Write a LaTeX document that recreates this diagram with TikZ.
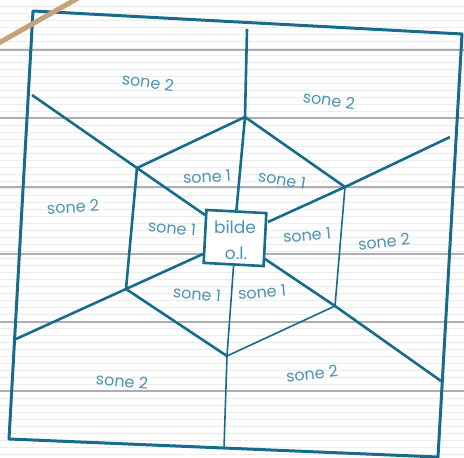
\documentclass[tikz,border=0pt]{standalone}
\usepackage{fontspec}
\setmainfont{Poppins}
\definecolor{ink}{HTML}{176C8C}
\definecolor{txt}{HTML}{4A94B4}
\definecolor{rule}{HTML}{ADADB2}
\definecolor{faint}{HTML}{ECECEE}
\definecolor{twine}{HTML}{C4A27A}
\begin{document}
\begin{tikzpicture}[x=1pt,y=-1pt,
  edge/.style={draw=ink,line width=2.6pt,line join=round},
  thin/.style={draw=ink,line width=1.6pt},
  lab/.style={text=txt,font=\fontsize{16}{18}\selectfont,inner sep=0pt},
  boxtxt/.style={text=txt,font=\fontsize{17}{19}\selectfont,align=center,inner sep=0pt}]
\useasboundingbox (0,0) rectangle (464,458);
\fill[white] (0,0) rectangle (464,458);
% paper lines
\foreach \y in {6,13,...,458} \draw[faint,line width=0.7pt] (0,\y) -- (464,\y);
\foreach \y in {50,118,187,254,322,391} \draw[rule,line width=2.4pt] (0,\y) -- (464,\y);
% outer frame
\coordinate (tl) at (33,11);
\coordinate (tr) at (462,34);
\coordinate (br) at (438,457);
\coordinate (bl) at (9,439);
\draw[edge,line width=3pt] (tl) -- (tr) -- (br) -- (bl) -- cycle;
% twine
\draw[twine,line width=5pt,line cap=round] (-3,44) -- (80,-3);
% hexagon
\coordinate (ht) at (245,117);
\coordinate (hur) at (345,187);
\coordinate (hlr) at (335,306);
\coordinate (hb) at (227,356);
\coordinate (hll) at (126,289);
\coordinate (hul) at (137,168);
% radial free ends
\coordinate (et) at (247,29);
\coordinate (er) at (450,137);
\coordinate (el) at (32,95);
\coordinate (ell) at (16,339);
\coordinate (eb) at (224,448);
\coordinate (elr) at (441,381);
% center box
\node[draw=ink,line width=2.6pt,fill=white,minimum width=60pt,minimum height=53pt,rotate=-3,inner sep=0pt] (box) at (235,238) {};
\node[boxtxt] (b1) at (235,227) {bilde};
\node[boxtxt] (b2) at (236,253) {o.l.};
% radial lines
\draw[edge] (et) -- (ht) -- (box.north);
\draw[edge] (er) -- (hur) -- (268,222);
\draw[edge] (el) -- (hul) -- (205,215);
\draw[edge] (ell) -- (hll) -- (203,254);
\draw[thin] (box.south) -- (hb) -- (eb);
\draw[edge] (265,259) -- (hlr) -- (elr);
% hexagon edges
\draw[edge] (hul) -- (ht) -- (hur);
\draw[thin] (hur) -- (hlr);
\draw[thin] (hlr) -- (hb);
\draw[edge] (hb) -- (hll) -- (hul);
% labels
\node[lab,rotate=-8] (s2a) at (148,82) {sone 2};
\node[lab,rotate=-8] (s2b) at (329,100) {sone 2};
\node[lab,rotate=3] (s2c) at (73,207) {sone 2};
\node[lab,rotate=7] (s2d) at (384,242) {sone 2};
\node[lab,rotate=-5] (s2e) at (122,381) {sone 2};
\node[lab,rotate=7] (s2f) at (312,374) {sone 2};
\node[lab,rotate=3] (s1a) at (207,177) {sone 1};
\node[lab,rotate=-10] (s1b) at (282,180) {sone 1};
\node[lab,rotate=-5] (s1c) at (172,228) {sone 1};
\node[lab,rotate=5] (s1d) at (307,235) {sone 1};
\node[lab,rotate=-5] (s1e) at (197,294) {sone 1};
\node[lab,rotate=5] (s1f) at (262,292) {sone 1};
\end{tikzpicture}
\end{document}
